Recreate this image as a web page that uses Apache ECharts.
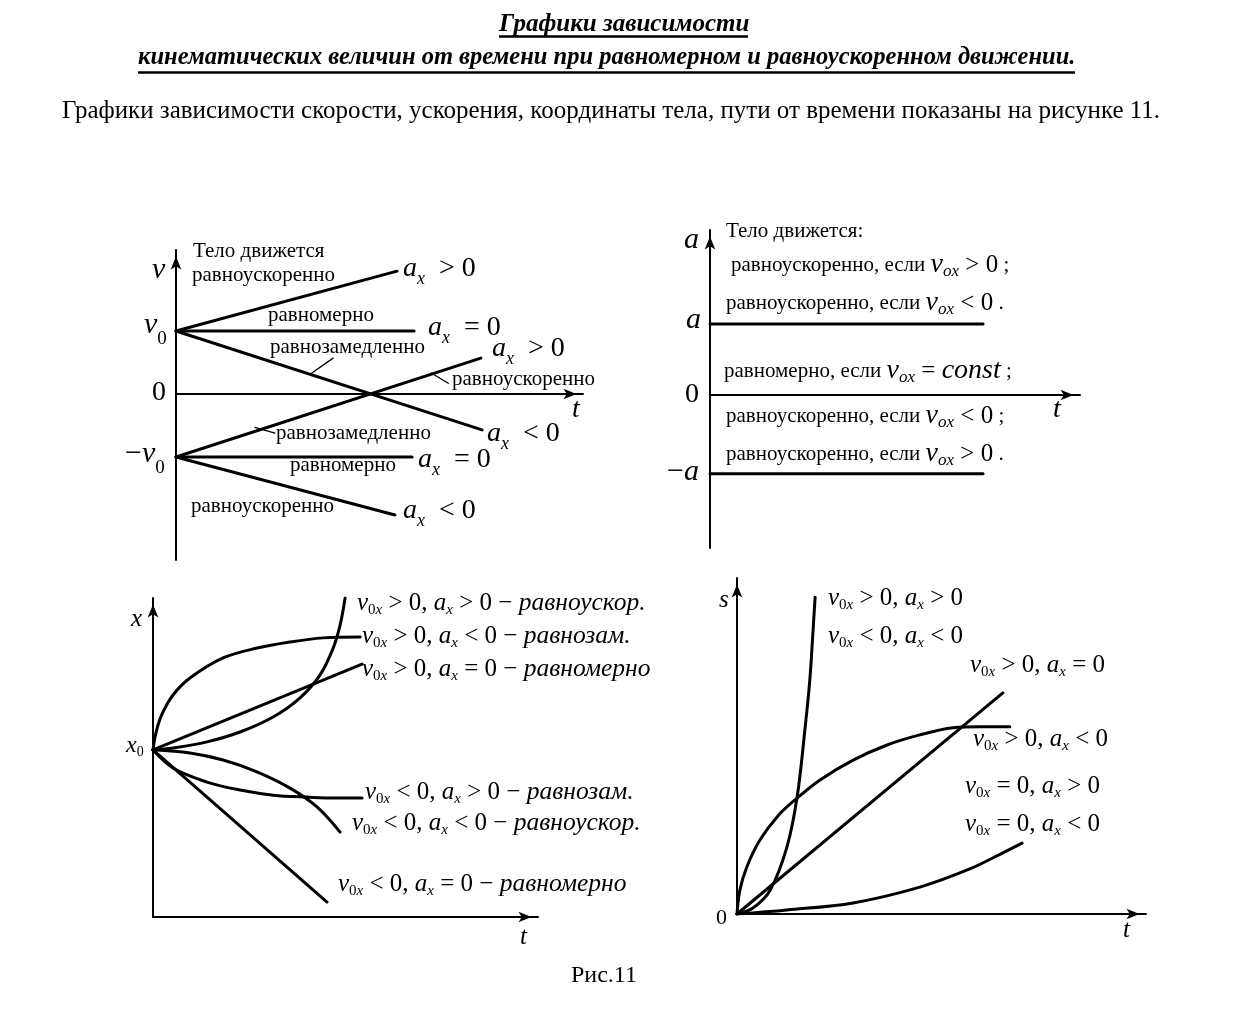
<!DOCTYPE html>
<html><head><meta charset="utf-8">
<script src="https://cdn.jsdelivr.net/npm/echarts@6/dist/echarts.min.js"></script>
<style>html,body{margin:0;padding:0;background:#fff}#c{width:1240px;height:1016px}</style>
</head><body><div id="c"></div>
<script>
// ---------- DATA (schematic values) ----------
// Panel 1: v(t)   (t in 0..10, v0 = 1)
const vPosAccel   = [[0, 1], [5.43, 1.95]];
const vPosUniform = [[0, 1], [5.85, 1]];
const vPosDecel   = [[0, 1], [7.52, -0.57]];
const vNegDecel   = [[0, -1], [7.49, 0.57]];
const vNegUniform = [[0, -1], [5.80, -1]];
const vNegAccel   = [[0, -1], [5.38, -1.92]];
const vLeader1 = [[3.86, 0.57], [3.33, 0.33]];
const vLeader2 = [[6.69, 0.17], [6.28, 0.33]];
const vLeader3 = [[2.43, -0.62], [1.94, -0.53]];
// Panel 2: a(t)
const aPositive = [[0, 1], [7.38, 1]];
const aNegative = [[0, -1.11], [7.38, -1.11]];
// Panel 3: x(t)   (x0 = 5.24)
const xPosPos = [[0,5.24],[0.52,5.30],[1.40,5.49],[2.26,5.80],[3.12,6.27],[3.82,6.87],[4.34,7.59],[4.68,8.43],[4.86,9.15],[4.99,10]];
const xPosNeg = [[0,5.24],[0.05,5.62],[0.13,6.02],[0.26,6.43],[0.52,6.96],[0.96,7.49],[1.82,8.12],[2.70,8.43],[3.56,8.62],[4.42,8.75],[5.38,8.78]];
const xPosZero = [[0,5.24],[5.43,7.93]];
const xNegPos = [[0,5.24],[0.52,4.67],[1.40,4.23],[2.26,3.98],[3.12,3.82],[4.0,3.76],[4.86,3.73],[5.43,3.73]];
const xNegNeg = [[0,5.24],[0.96,5.14],[1.82,4.92],[2.70,4.55],[3.56,4.04],[4.26,3.45],[4.86,2.66]];
const xNegZero = [[0,5.24],[4.52,0.47]];
// Panel 4: s(t)
const sAccel = [[0,0],[0.39,0.18],[0.81,0.71],[1.22,1.99],[1.47,3.48],[1.66,5.48],[1.78,6.96],[1.86,8.45],[1.91,9.43]];
const sDecel = [[0,0],[0.07,0.71],[0.24,1.40],[0.56,2.20],[1.00,2.92],[1.47,3.45],[2.03,3.99],[2.84,4.58],[3.67,5.03],[4.47,5.33],[5.28,5.54],[5.94,5.57],[6.67,5.57]];
const sUniform = [[0,0],[6.50,6.58]];
const sFromRest = [[0,0],[1.22,0.12],[2.84,0.33],[4.47,0.80],[5.69,1.34],[6.50,1.82],[6.97,2.11]];

// ---------- LAYOUT / STYLE ----------
const F = '"Liberation Serif","Times New Roman",serif';
const chart = echarts.init(document.getElementById('c'), null, {renderer: 'canvas'});

function axis(gi, min, max) {
  return {
    type: 'value', gridIndex: gi, min: min, max: max,
    axisLine: {show: true, onZero: true, symbol: ['none', 'arrow'], symbolSize: [8, 13], symbolOffset: [0, -6.5],
      lineStyle: {color: '#000', width: 2}},
    axisTick: {show: false}, axisLabel: {show: false}, splitLine: {show: false}
  };
}
function line(gi, data, opts) {
  opts = opts || {};
  return {
    type: 'line', xAxisIndex: gi, yAxisIndex: gi, data: data, symbol: 'none',
    smooth: opts.smooth || false, silent: true,
    lineStyle: {color: '#000', width: opts.w || 3, cap: 'round', join: 'round'}
  };
}
function rich(main, sub, txt, p, num) {
  return {
    i: {fontFamily: F, fontSize: main, fontStyle: 'italic', fill: '#000'},
    r: {fontFamily: F, fontSize: num || main, fill: '#000'},
    si: {fontFamily: F, fontSize: sub, fontStyle: 'italic', fill: '#000', padding: [p, 0, 0, 0]},
    sr: {fontFamily: F, fontSize: sub, fill: '#000', padding: [p, 0, 0, 0]},
    t: {fontFamily: F, fontSize: txt, fill: '#000'},
    ti: {fontFamily: F, fontSize: txt, fontStyle: 'italic', fill: '#000'}
  };
}
const R1 = rich(28, 18, 21, 20);
const R1v = rich(30, 19, 21, 28);
const R2 = rich(28, 17, 21, 14, 25);
const R3 = rich(25, 15, 25.5, 14);
function T(x, y, text, r) {
  return {type: 'text', x: x, y: y, silent: true,
    style: {text: text, rich: r, fill: '#000', fontFamily: F, fontSize: 21, align: 'left', verticalAlign: 'middle'}};
}
function P(x, y, text, font) {
  return {type: 'text', x: x, y: y, silent: true,
    style: {text: text, fill: '#000', font: font, align: 'left', verticalAlign: 'middle'}};
}
function L(x1, y1, x2, y2, w) {
  return {type: 'line', silent: true, shape: {x1: x1, y1: y1, x2: x2, y2: y2}, style: {stroke: '#000', lineWidth: w}};
}

const graphics = [
  P(499, 25, 'Графики зависимости', 'italic bold 25px ' + F),
  L(499, 36.5, 748, 36.5, 2.5),
  P(138, 58, 'кинематических величин от времени при равномерном и равноускоренном движении.', 'italic bold 24.5px ' + F),
  L(138, 72.5, 1075, 72.5, 2.5),
  P(62, 111, 'Графики зависимости скорости, ускорения, координаты тела, пути от времени показаны на рисунке 11.', '25px ' + F),
  P(571, 976, 'Рис.11', '24px ' + F),

  // Panel 1
  T(152, 270, '{i|v}', R1v),
  T(193, 251, '{t|Тело движется}', R1),
  T(192, 275, '{t|равноускоренно}', R1),
  T(403, 269, '{i|a}{si|x}{r|  > 0}', R1),
  T(268, 315, '{t|равномерно}', R1),
  T(144, 325, '{i|v}{sr|0}', R1v),
  T(428, 328, '{i|a}{si|x}{r|  = 0}', R1),
  T(270, 347, '{t|равнозамедленно}', R1),
  T(492, 349, '{i|a}{si|x}{r|  > 0}', R1),
  T(452, 379, '{t|равноускоренно}', R1),
  T(152, 393, '{r|0}', R1),
  T(572, 410, '{i|t}', R1),
  T(487, 434, '{i|a}{si|x}{r|  < 0}', R1),
  T(276, 433, '{t|равнозамедленно}', R1),
  T(125, 454, '{r|−}{i|v}{sr|0}', R1v),
  T(290, 465, '{t|равномерно}', R1),
  T(418, 460, '{i|a}{si|x}{r|  = 0}', R1),
  T(191, 506, '{t|равноускоренно}', R1),
  T(403, 511, '{i|a}{si|x}{r|  < 0}', R1),

  // Panel 2
  T(684, 240, '{i|a}', R1v),
  T(726, 231, '{t|Тело движется:}', R2),
  T(731, 265, '{t|равноускоренно, если }{i|v}{si|ox}{r| > 0}{t| ;}', R2),
  T(726, 303, '{t|равноускоренно, если }{i|v}{si|ox}{r| < 0}{t| .}', R2),
  T(686, 320, '{i|a}', R1v),
  T(724, 371, '{t|равномерно, если }{i|v}{si|ox}{r| = }{i|const}{t| ;}', R2),
  T(685, 395, '{r|0}', R1),
  T(1053, 410, '{i|t}', R1),
  T(726, 416, '{t|равноускоренно, если }{i|v}{si|ox}{r| < 0}{t| ;}', R2),
  T(726, 454, '{t|равноускоренно, если }{i|v}{si|ox}{r| > 0}{t| .}', R2),
  T(667, 472, '{r|−}{i|a}', R1v),

  // Panel 3
  T(131, 619, '{i|x}', R3),
  T(126, 746, '{i|x}{sr|0}', rich(24, 14, 24, 12)),
  T(520, 937, '{i|t}', R3),
  T(357, 603, '{i|v}{sr|0}{si|x}{r| > 0, }{i|a}{si|x}{r| > 0 − }{ti|равноускор.}', R3),
  T(362, 636, '{i|v}{sr|0}{si|x}{r| > 0, }{i|a}{si|x}{r| < 0 − }{ti|равнозам.}', R3),
  T(362, 669, '{i|v}{sr|0}{si|x}{r| > 0, }{i|a}{si|x}{r| = 0 − }{ti|равномерно}', R3),
  T(365, 792, '{i|v}{sr|0}{si|x}{r| < 0, }{i|a}{si|x}{r| > 0 − }{ti|равнозам.}', R3),
  T(352, 823, '{i|v}{sr|0}{si|x}{r| < 0, }{i|a}{si|x}{r| < 0 − }{ti|равноускор.}', R3),
  T(338, 884, '{i|v}{sr|0}{si|x}{r| < 0, }{i|a}{si|x}{r| = 0 − }{ti|равномерно}', R3),

  // Panel 4
  T(719, 600, '{i|s}', R3),
  T(716, 918, '{r|0}', rich(22, 14, 22, 12)),
  T(1123, 930, '{i|t}', R3),
  T(828, 598, '{i|v}{sr|0}{si|x}{r| > 0, }{i|a}{si|x}{r| > 0}', R3),
  T(828, 636, '{i|v}{sr|0}{si|x}{r| < 0, }{i|a}{si|x}{r| < 0}', R3),
  T(970, 665, '{i|v}{sr|0}{si|x}{r| > 0, }{i|a}{si|x}{r| = 0}', R3),
  T(973, 739, '{i|v}{sr|0}{si|x}{r| > 0, }{i|a}{si|x}{r| < 0}', R3),
  T(965, 786, '{i|v}{sr|0}{si|x}{r| = 0, }{i|a}{si|x}{r| > 0}', R3),
  T(965, 824, '{i|v}{sr|0}{si|x}{r| = 0, }{i|a}{si|x}{r| < 0}', R3)
];

const option = {
  backgroundColor: '#fff',
  animation: false,
  grid: [
    {left: 176, top: 250, width: 407, height: 310, outerBoundsMode: 'none'},
    {left: 710, top: 230, width: 370, height: 318, outerBoundsMode: 'none'},
    {left: 153, top: 598, width: 385, height: 319, outerBoundsMode: 'none'},
    {left: 737, top: 578, width: 409, height: 336, outerBoundsMode: 'none'}
  ],
  xAxis: [axis(0, 0, 10), axis(1, 0, 10), axis(2, 0, 10), axis(3, 0, 10)],
  yAxis: [axis(0, -2.635, 2.286), axis(1, -2.155, 2.324), axis(2, 0, 10), axis(3, 0, 10)],
  series: [
    line(0, vPosAccel), line(0, vPosUniform), line(0, vPosDecel),
    line(0, vNegDecel), line(0, vNegUniform), line(0, vNegAccel),
    line(0, vLeader1, {w: 1.3}), line(0, vLeader2, {w: 1.3}), line(0, vLeader3, {w: 1.3}),
    line(1, aPositive), line(1, aNegative),
    line(2, xPosPos, {smooth: 0.35}), line(2, xPosNeg, {smooth: 0.35}), line(2, xPosZero),
    line(2, xNegPos, {smooth: 0.35}), line(2, xNegNeg, {smooth: 0.35}), line(2, xNegZero),
    line(3, sAccel, {smooth: 0.35}), line(3, sDecel, {smooth: 0.35}), line(3, sUniform),
    line(3, sFromRest, {smooth: 0.35})
  ],
  graphic: graphics
};
chart.setOption(option);
</script>
</body></html>
